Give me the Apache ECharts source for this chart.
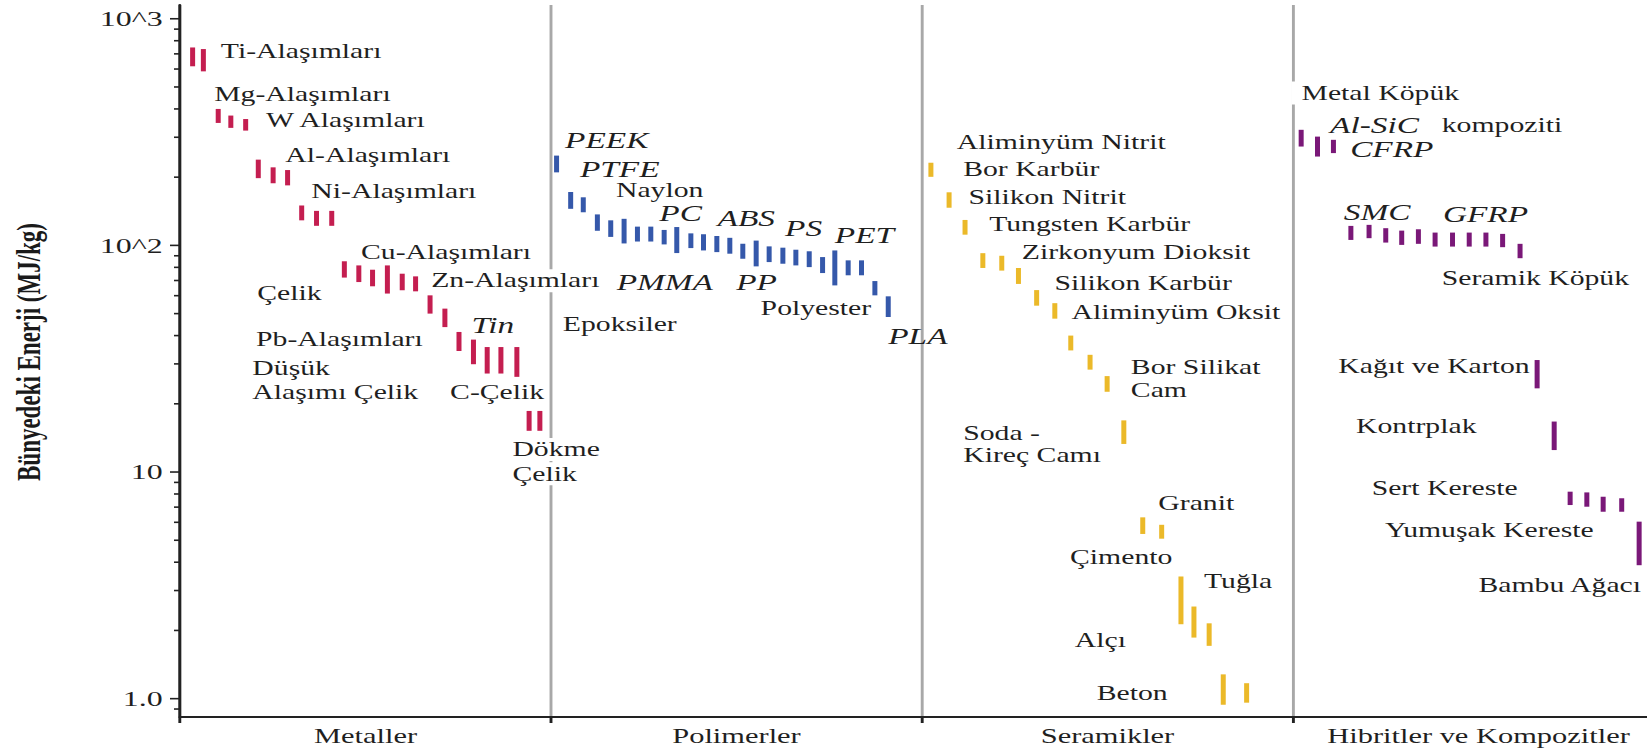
<!DOCTYPE html>
<html>
<head>
<meta charset="utf-8">
<script src="https://cdn.jsdelivr.net/npm/echarts@6/dist/echarts.min.js"></script>
<style>
  html, body { margin: 0; padding: 0; background: #fff; overflow: hidden; }
  /* the figure is laid out narrow and widened horizontally as a whole */
  #chart { width: 1136px; height: 754px; transform: scaleX(1.45); transform-origin: 0 0; }
</style>
</head>
<body>
<div id="chart"></div>
<script>
// ---- categories and tick labels ----
const sectionNames = ['Metaller', 'Polimerler', 'Seramikler', 'Hibritler ve Kompozitler'];
const yTickValues = [1, 10, 100, 1000];
const yTickLabels = ['1.0', '10', '10^2', '10^3'];
const yMinorTicks = [0.9, 2, 3, 4, 5, 6, 7, 8, 9, 20, 30, 40, 50, 60, 70, 80, 90,
                     200, 300, 400, 500, 600, 700, 800, 900];

// ---- embodied energy ranges (MJ/kg); position along the section axis ----
const metalPos  = [0.034, 0.063, 0.103, 0.137, 0.177, 0.211, 0.251, 0.290, 0.328, 0.368, 0.409, 0.443, 0.482,
                   0.519, 0.559, 0.599, 0.635, 0.674, 0.714, 0.752, 0.791, 0.828, 0.865, 0.908, 0.941, 0.970];
const metalLow  = [617, 586, 347, 330, 321, 198, 188, 184, 129, 122, 122, 72.1, 68.9,
                   66.0, 61.3, 63.4, 62.7, 50.0, 43.6, 34.2, 29.9, 27.2, 27.2, 26.3, 15.2, 15.2];
const metalHigh = [747, 735, 400, 374, 361, 239, 221, 215, 150, 142, 142, 85.1, 81.6,
                   78.1, 81.6, 75.0, 73.0, 60.2, 52.6, 41.5, 38.4, 35.6, 35.6, 35.6, 18.6, 18.6];

const polyPos  = [1.015, 1.053, 1.087, 1.125, 1.161, 1.197, 1.233, 1.269, 1.305, 1.339, 1.377, 1.411, 1.447,
                  1.482, 1.517, 1.553, 1.588, 1.625, 1.660, 1.696, 1.732, 1.765, 1.801, 1.837, 1.873, 1.909];
const polyLow  = [210, 145, 140, 116, 109, 102, 104, 104, 101, 92.5, 97.3, 95, 93.4,
                  91.9, 87.4, 80.8, 84.4, 83, 81.6, 80.2, 75.5, 66.6, 73.8, 73.8, 60.2, 48.3];
const polyHigh = [249, 172, 163, 137, 129, 131, 121, 121, 117, 120.5, 113, 112, 110,
                  108, 101.6, 105, 99, 97.7, 95.7, 94.2, 88.8, 95, 85.9, 85.9, 69.6, 59.6];

const ceramPos  = [2.024, 2.073, 2.116, 2.164, 2.215, 2.260, 2.309, 2.358, 2.401, 2.453,
                   2.499, 2.544, 2.595, 2.646, 2.698, 2.733, 2.774, 2.812, 2.875];
const ceramLow  = [200.7, 146.6, 111.5, 79.5, 77.4, 67.6, 54.2, 47.5, 34.4, 28.3,
                   22.6, 13.3, 5.33, 5.08, 2.13, 1.86, 1.71, 0.94, 0.96];
const ceramHigh = [231.6, 171.5, 129.5, 92.4, 90.0, 79.5, 63.5, 55.6, 40.0, 32.9,
                   26.5, 16.9, 6.31, 5.85, 3.46, 2.55, 2.15, 1.28, 1.17];

const hybridPos  = [3.022, 3.066, 3.109, 3.156, 3.205, 3.250, 3.293, 3.338, 3.383, 3.430, 3.475,
                    3.520, 3.565, 3.612, 3.658, 3.704, 3.747, 3.792, 3.836, 3.886, 3.933];
const hybridLow  = [273, 246.6, 255.4, 105.7, 107.6, 102.9, 100.5, 101.6, 98.8, 98.8, 98.8,
                    98.8, 98.2, 87.8, 23.4, 12.5, 7.15, 7.03, 6.68, 6.68, 3.88];
const hybridHigh = [323.6, 302, 292.3, 121.9, 123.2, 119.1, 116.2, 117.8, 113.9, 113.9, 113.9,
                    113.9, 112.4, 101.6, 31.2, 16.7, 8.19, 8.13, 7.78, 7.66, 6.04];

// ---- material names: [text, x, value at text middle, kind] ----
// kind: 'r' upright, 'i' italic, 'b' upright on a white box
const annotations = [
  ['Ti-Alaşımları', 0.110, 719, 'r'],
  ['Mg-Alaşımları', 0.092, 465, 'r'],
  ['W Alaşımları', 0.232, 356, 'r'],
  ['Al-Alaşımları', 0.284, 251, 'r'],
  ['Ni-Alaşımları', 0.354, 173, 'r'],
  ['Cu-Alaşımları', 0.488, 93.7, 'r'],
  ['Zn-Alaşımları', 0.677, 69.9, 'b'],
  ['Çelik', 0.208, 61.3, 'r'],
  ['Tin', 0.786, 44.4, 'i'],
  ['Pb-Alaşımları', 0.205, 38.7, 'r'],
  ['Düşük', 0.195, 28.7, 'r'],
  ['Alaşımı Çelik', 0.195, 22.6, 'r'],
  ['C-Çelik', 0.728, 22.6, 'r'],
  ['Dökme', 0.896, 12.56, 'b'],
  ['Çelik', 0.896, 9.83, 'b'],

  ['PEEK', 1.038, 292, 'i'],
  ['PTFE', 1.078, 217, 'i'],
  ['Naylon', 1.175, 174.6, 'r'],
  ['PC', 1.292, 138.7, 'i'],
  ['ABS', 1.449, 131.9, 'i'],
  ['PS', 1.631, 119.9, 'i'],
  ['PET', 1.765, 111.3, 'i'],
  ['PMMA', 1.177, 69.2, 'i'],
  ['PP', 1.499, 69.2, 'i'],
  ['Polyester', 1.565, 52.8, 'r'],
  ['Epoksiler', 1.032, 45.0, 'r'],
  ['PLA', 1.909, 39.9, 'i'],

  ['Aliminyüm Nitrit', 2.094, 284.4, 'r'],
  ['Bor Karbür', 2.111, 217, 'r'],
  ['Silikon Nitrit', 2.125, 162.6, 'r'],
  ['Tungsten Karbür', 2.181, 124.1, 'r'],
  ['Zirkonyum Dioksit', 2.269, 93.3, 'r'],
  ['Silikon Karbür', 2.357, 68.1, 'r'],
  ['Aliminyüm Oksit', 2.403, 50.7, 'r'],
  ['Bor Silikat', 2.563, 28.9, 'r'],
  ['Cam', 2.563, 23.0, 'r'],
  ['Soda -', 2.111, 14.9, 'r'],
  ['Kireç Camı', 2.111, 11.89, 'r'],
  ['Granit', 2.637, 7.27, 'r'],
  ['Çimento', 2.399, 4.20, 'r'],
  ['Tuğla', 2.760, 3.31, 'r'],
  ['Alçı', 2.412, 1.813, 'r'],
  ['Beton', 2.471, 1.061, 'r'],

  ['Metal Köpük', 3.023, 470, 'b'],
  ['Al-SiC', 3.100, 340.4, 'i'],
  ['kompoziti', 3.401, 340.4, 'r'],
  ['CFRP', 3.154, 265.9, 'i'],
  ['SMC', 3.137, 141, 'i'],
  ['GFRP', 3.404, 137.7, 'i'],
  ['Seramik Köpük', 3.401, 71.6, 'r'],
  ['Kağıt ve Karton', 3.122, 29.2, 'r'],
  ['Kontrplak', 3.170, 15.97, 'r'],
  ['Sert Kereste', 3.212, 8.47, 'r'],
  ['Yumuşak Kereste', 3.248, 5.55, 'r'],
  ['Bambu Ağacı', 3.500, 3.17, 'r']
];

// ---- drawing ----
const STRETCH = 1.45;               // horizontal widening applied by CSS
const px = v => v / STRETCH;        // final-picture horizontal pixels -> layout pixels
const SERIF = '"Liberation Serif", "Times New Roman", serif';
const INK = '#1f1f1f';

function rangeBars(pos, low, high, color) {
  return {
    type: 'custom',
    xAxisIndex: 1,
    yAxisIndex: 0,
    silent: true,
    z: 3,
    data: pos.map((p, i) => [p, low[i], high[i]]),
    encode: { x: 0, y: [1, 2] },
    renderItem: function (params, api) {
      const top = api.coord([api.value(0), api.value(2)]);
      const bottom = api.coord([api.value(0), api.value(1)]);
      const w = px(5);
      return {
        type: 'rect',
        shape: { x: top[0] - w / 2, y: top[1], width: w, height: bottom[1] - top[1] },
        style: { fill: color }
      };
    }
  };
}

const tickMarks = {
  type: 'custom',
  xAxisIndex: 1,
  yAxisIndex: 0,
  silent: true,
  z: 4,
  data: yMinorTicks.map(v => [0, v, 0]).concat(yTickValues.map(v => [0, v, 1])),
  encode: { x: 0, y: 1 },
  renderItem: function (params, api) {
    const p = api.coord([0, api.value(1)]);
    const len = api.value(2) ? px(10) : px(6);
    return {
      type: 'line',
      shape: { x1: p[0] - len, y1: p[1], x2: p[0], y2: p[1] },
      style: { stroke: '#222', lineWidth: 1.6 }
    };
  }
};

const nameLabels = {
  type: 'custom',
  xAxisIndex: 1,
  yAxisIndex: 0,
  silent: true,
  z: 6,
  data: annotations.map((a, i) => [a[1], a[2], i]),
  encode: { x: 0, y: 1 },
  renderItem: function (params, api) {
    const a = annotations[api.value(2)];
    const p = api.coord([api.value(0), api.value(1)]);
    const italic = a[3] === 'i';
    const boxed = a[3] === 'b';
    const padLeft = boxed ? (a[0] === 'Metal Köpük' ? px(10) : px(3)) : 0;
    return {
      type: 'text',
      x: p[0] - padLeft,
      y: p[1],
      style: {
        text: a[0],
        fill: INK,
        font: (italic ? 'italic 23px ' : '20.5px ') + SERIF,
        align: 'left',
        verticalAlign: 'middle',
        textAlign: 'left',
        textVerticalAlign: 'middle',
        backgroundColor: boxed ? '#ffffff' : null,
        padding: boxed ? [1, px(3), 1, padLeft] : 0
      }
    };
  }
};

const chart = echarts.init(document.getElementById('chart'), null, { renderer: 'svg' });

chart.setOption({
  animation: false,
  backgroundColor: '#ffffff',
  grid: {
    left: px(180),
    top: 5,
    width: px(1484),
    height: 712,
    containLabel: false,
    outerBoundsMode: 'none'
  },
  xAxis: [
    {
      type: 'category',
      data: sectionNames,
      boundaryGap: true,
      position: 'bottom',
      axisLine: { show: true, lineStyle: { color: '#222', width: 2 } },
      axisTick: { show: true, interval: 0, length: 6, lineStyle: { color: '#222', width: 2 } },
      axisLabel: { interval: 0, margin: 9, color: INK, fontFamily: SERIF, fontSize: 21 },
      splitLine: { show: true, interval: 0, lineStyle: { color: '#a8a8a8', width: 2 } }
    },
    {
      type: 'value',
      min: 0,
      max: 4,
      show: false
    }
  ],
  yAxis: {
    type: 'log',
    logBase: 10,
    min: 0.83,
    max: 1150,
    axisLine: { show: true, lineStyle: { color: '#222', width: 2 } },
    axisTick: { show: false },
    splitLine: { show: false },
    minorTick: { show: false },
    axisLabel: {
      margin: 12,
      color: INK,
      fontFamily: SERIF,
      fontSize: 22,
      formatter: function (v) {
        const l = Math.log10(v);
        if (Math.abs(l - Math.round(l)) > 1e-6) return '';
        const idx = yTickValues.indexOf(Math.pow(10, Math.round(l)));
        return idx >= 0 ? yTickLabels[idx] : '';
      }
    }
  },
  graphic: [
    {
      type: 'text',
      x: px(28),
      y: 352,
      rotation: Math.PI / 2,
      style: {
        text: 'Bünyedeki Enerji (MJ/kg)',
        font: 'bold 23px ' + SERIF,
        fill: '#1a1a1a',
        align: 'center',
        verticalAlign: 'middle',
        textAlign: 'center',
        textVerticalAlign: 'middle'
      }
    }
  ],
  series: [
    rangeBars(metalPos, metalLow, metalHigh, '#c41e50'),
    rangeBars(polyPos, polyLow, polyHigh, '#3558aa'),
    rangeBars(ceramPos, ceramLow, ceramHigh, '#ebb929'),
    rangeBars(hybridPos, hybridLow, hybridHigh, '#7a1878'),
    tickMarks,
    nameLabels
  ]
});
</script>
</body>
</html>
